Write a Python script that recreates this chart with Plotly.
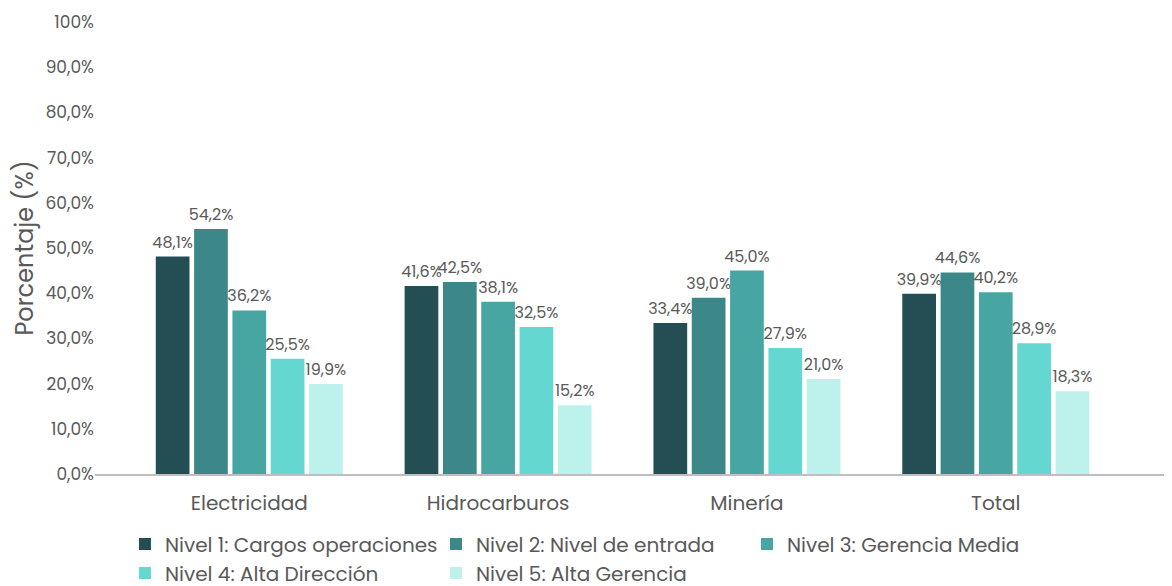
import plotly.graph_objects as go

categories = ["Electricidad", "Hidrocarburos", "Minería", "Total"]
niveles = [
    "Nivel 1: Cargos operaciones",
    "Nivel 2: Nivel de entrada",
    "Nivel 3: Gerencia Media",
    "Nivel 4: Alta Dirección",
    "Nivel 5: Alta Gerencia",
]
nivel1 = [48.1, 41.6, 33.4, 39.9]
nivel2 = [54.2, 42.5, 39.0, 44.6]
nivel3 = [36.2, 38.1, 45.0, 40.2]
nivel4 = [25.5, 32.5, 27.9, 28.9]
nivel5 = [19.9, 15.2, 21.0, 18.3]
series = [nivel1, nivel2, nivel3, nivel4, nivel5]
colors = ["#234F54", "#3C8787", "#48A6A2", "#64D8D0", "#BDF2EC"]

tick_vals = [0, 10, 20, 30, 40, 50, 60, 70, 80, 90, 100]
tick_text = ["0,0%", "10,0%", "20,0%", "30,0%", "40,0%", "50,0%",
             "60,0%", "70,0%", "80,0%", "90,0%", "100%"]

FONT = "Poppins, Lato, sans-serif"
GREY = "#595959"


def fmt(v):
    return ("%.1f%%" % v).replace(".", ",")


fig = go.Figure()
for name, vals, col in zip(niveles, series, colors):
    fig.add_trace(go.Bar(
        x=categories,
        y=vals,
        name=name,
        marker=dict(color=col, line=dict(width=0)),
        text=[fmt(v) for v in vals],
        textposition="outside",
        constraintext="none",
        textfont=dict(size=16, color=GREY, family=FONT),
        cliponaxis=False,
    ))

# the page body has an 8px margin, so the figure is offset on screen
fig.update_layout(
    width=1172,
    height=586,
    margin=dict(l=87, r=15, t=14, b=120),
    plot_bgcolor="white",
    paper_bgcolor="white",
    font=dict(family=FONT, color=GREY),
    barmode="group",
    bargap=0.23,
    bargroupgap=0.12,
    showlegend=True,
    legend=dict(
        orientation="h",
        xref="container", yref="container",
        x=0.0998, xanchor="left",
        y=0.1184, yanchor="top",
        font=dict(size=20, color=GREY, family=FONT),
        entrywidth=266,
        tracegroupgap=0,
        itemwidth=30,
    ),
)
fig.update_xaxes(
    range=[-0.62, 3.68],
    automargin=False,
    showline=True, linecolor="#BFBFBF", linewidth=1.5,
    ticks="", showgrid=False,
    ticklabelstandoff=10,
    tickfont=dict(size=20, color=GREY, family=FONT),
)
fig.update_yaxes(
    range=[0, 100],
    automargin=False,
    tickvals=tick_vals, ticktext=tick_text,
    showgrid=False, zeroline=False, showline=False, ticks="",
    tickfont=dict(size=17, color=GREY, family=FONT),
    title=dict(text="Porcentaje (%)", font=dict(size=24, color=GREY, family=FONT),
               standoff=6),
)

fig.write_html("out.html")
